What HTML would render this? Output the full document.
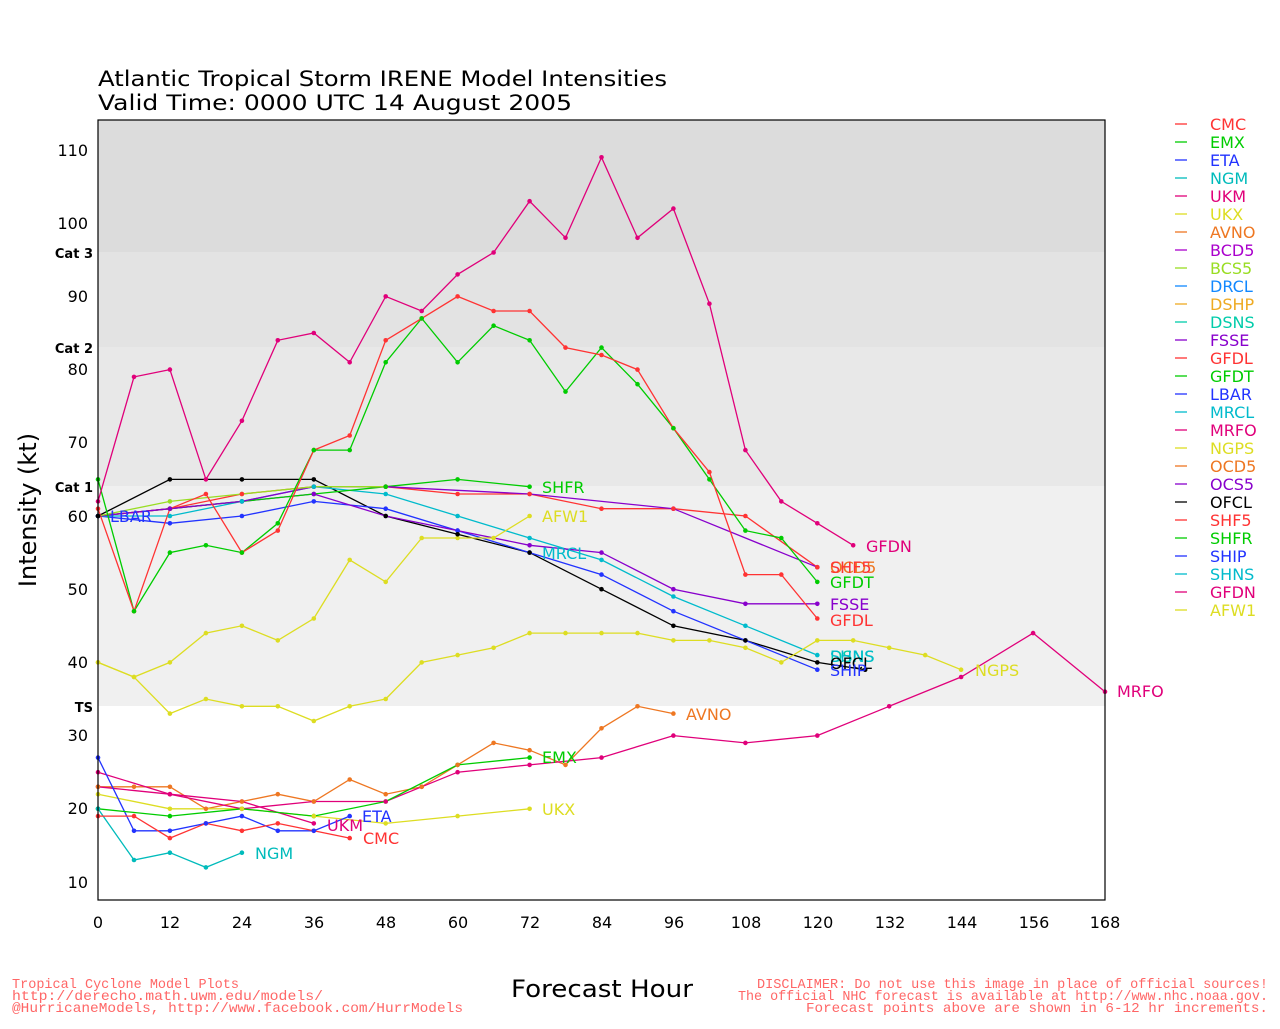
<!DOCTYPE html>
<html><head><meta charset="utf-8"><style>
body{margin:0;background:#fff;}
svg text{font-family:"DejaVu Sans","Liberation Sans",sans-serif;}
svg text.m{font-family:"Liberation Mono",monospace;}
</style></head><body>
<svg id="s" width="1280" height="1024" xmlns="http://www.w3.org/2000/svg">
<rect x="98" y="120" width="1007" height="780" fill="#fff"/>
<rect x="98" y="120" width="1007" height="132" fill="#dcdcdc"/>
<rect x="98" y="252" width="1007" height="95" fill="#e3e3e3"/>
<rect x="98" y="347" width="1007" height="139" fill="#e8e8e8"/>
<rect x="98" y="486" width="1007" height="220" fill="#f0f0f0"/>
<g id="lines"></g>
<rect x="98" y="120" width="1007" height="780" fill="none" stroke="#000" stroke-width="1.2"/>
<text x="98" y="86" font-size="21" textLength="569" lengthAdjust="spacingAndGlyphs">Atlantic Tropical Storm IRENE Model Intensities</text>
<text x="98" y="110" font-size="21" textLength="474" lengthAdjust="spacingAndGlyphs">Valid Time: 0000 UTC 14 August 2005</text>
<g font-size="13" font-weight="bold" text-anchor="end">
<text x="93" y="258">Cat 3</text><text x="93" y="353">Cat 2</text><text x="93" y="492">Cat 1</text><text x="93" y="712">TS</text>
</g>
<g font-size="16" text-anchor="end" fill="#000">
<text x="88" y="156">110</text><text x="88" y="229">100</text><text x="88" y="302">90</text><text x="88" y="375">80</text><text x="88" y="448">70</text><text x="88" y="522">60</text><text x="88" y="595">50</text><text x="88" y="668">40</text><text x="88" y="741">30</text><text x="88" y="814">20</text><text x="88" y="888">10</text>
</g>
<g font-size="16" text-anchor="middle">
<text x="98" y="928">0</text><text x="170" y="928">12</text><text x="242" y="928">24</text><text x="314" y="928">36</text><text x="386" y="928">48</text><text x="458" y="928">60</text><text x="530" y="928">72</text><text x="602" y="928">84</text><text x="674" y="928">96</text><text x="746" y="928">108</text><text x="818" y="928">120</text><text x="890" y="928">132</text><text x="962" y="928">144</text><text x="1034" y="928">156</text><text x="1105" y="928">168</text>
</g>
<text x="511" y="997" font-size="24" textLength="182" lengthAdjust="spacingAndGlyphs">Forecast Hour</text>
<text x="36" y="510" font-size="24" text-anchor="middle" transform="rotate(-90 36 510)">Intensity (kt)</text>
<g font-size="14" fill="#f66">
<text class="m" x="12" y="988" textLength="227" lengthAdjust="spacingAndGlyphs">Tropical Cyclone Model Plots</text>
<text class="m" x="12" y="1000" textLength="311" lengthAdjust="spacingAndGlyphs">http://derecho.math.uwm.edu/models/</text>
<text class="m" x="12" y="1012" textLength="451" lengthAdjust="spacingAndGlyphs">@HurricaneModels, http://www.facebook.com/HurrModels</text>
<text class="m" x="757" y="988" textLength="511" lengthAdjust="spacingAndGlyphs">DISCLAIMER: Do not use this image in place of official sources!</text>
<text class="m" x="738" y="1000" textLength="530" lengthAdjust="spacingAndGlyphs">The official NHC forecast is available at http://www.nhc.noaa.gov.</text>
<text class="m" x="806" y="1012" textLength="462" lengthAdjust="spacingAndGlyphs">Forecast points above are shown in 6-12 hr increments.</text>
</g>
<g font-size="16">
<text x="363" y="844" fill="#ff3333">CMC</text>
<text x="542" y="763" fill="#00cc00">EMX</text>
<text x="362" y="822" fill="#2233ff">ETA</text>
<text x="255" y="859" fill="#00bbbb">NGM</text>
<text x="327" y="831" fill="#e0007a">UKM</text>
<text x="542" y="815" fill="#dddd22">UKX</text>
<text x="686" y="720" fill="#ee7722">AVNO</text>
<text x="542" y="522" fill="#dddd22">AFW1</text>
<text x="542" y="493" fill="#00cc00">SHFR</text>
<text x="542" y="559" fill="#00bbcc">MRCL</text>
<text x="110" y="522" fill="#2233ff">LBAR</text>
<text x="866" y="552" fill="#e0007a">GFDN</text>
<text x="830" y="573" fill="#ee7722">OCD5</text>
<text x="830" y="573" fill="#ff3333">SHF5</text>
<text x="830" y="588" fill="#00cc00">GFDT</text>
<text x="830" y="610" fill="#8800cc">FSSE</text>
<text x="830" y="626" fill="#ff3333">GFDL</text>
<text x="830" y="662" fill="#00ccaa">DSNS</text>
<text x="830" y="662" fill="#00bbcc">SHNS</text>
<text x="830" y="669" fill="#000">OFCL</text>
<text x="830" y="676" fill="#2233ff">SHIP</text>
<text x="975" y="676" fill="#dddd22">NGPS</text>
<text x="1117" y="697" fill="#e0007a">MRFO</text>
</g>
<g font-size="16">
<text x="1210" y="130" fill="#ff3333">CMC</text>
<text x="1210" y="148" fill="#00cc00">EMX</text>
<text x="1210" y="166" fill="#2233ff">ETA</text>
<text x="1210" y="184" fill="#00bbbb">NGM</text>
<text x="1210" y="202" fill="#e0007a">UKM</text>
<text x="1210" y="220" fill="#dddd22">UKX</text>
<text x="1210" y="238" fill="#ee7722">AVNO</text>
<text x="1210" y="256" fill="#aa00cc">BCD5</text>
<text x="1210" y="274" fill="#99dd22">BCS5</text>
<text x="1210" y="292" fill="#1188ff">DRCL</text>
<text x="1210" y="310" fill="#eeaa22">DSHP</text>
<text x="1210" y="328" fill="#00ccaa">DSNS</text>
<text x="1210" y="346" fill="#8800cc">FSSE</text>
<text x="1210" y="364" fill="#ff3333">GFDL</text>
<text x="1210" y="382" fill="#00cc00">GFDT</text>
<text x="1210" y="400" fill="#2233ff">LBAR</text>
<text x="1210" y="418" fill="#00bbcc">MRCL</text>
<text x="1210" y="436" fill="#e0007a">MRFO</text>
<text x="1210" y="454" fill="#dddd22">NGPS</text>
<text x="1210" y="472" fill="#ee7722">OCD5</text>
<text x="1210" y="490" fill="#8800cc">OCS5</text>
<text x="1210" y="508" fill="#000">OFCL</text>
<text x="1210" y="526" fill="#ff3333">SHF5</text>
<text x="1210" y="544" fill="#00cc00">SHFR</text>
<text x="1210" y="562" fill="#2233ff">SHIP</text>
<text x="1210" y="580" fill="#00bbcc">SHNS</text>
<text x="1210" y="598" fill="#e0007a">GFDN</text>
<text x="1210" y="616" fill="#dddd22">AFW1</text>
</g>
<g id="leg"></g>
</svg>
<script>
var X=function(h){return 98+h*5.994},Y=function(v){return 882-(v-10)*7.32};
var S=[
["#ff3333",[0,19,6,19,12,16,18,18,24,17,30,18,36,17,42,16]],
["#00cc00",[0,20,12,19,24,20,36,19,48,21,60,26,72,27]],
["#2233ff",[0,27,6,17,12,17,18,18,24,19,30,17,36,17,42,19]],
["#00bbbb",[0,20,6,13,12,14,18,12,24,14]],
["#e0007a",[0,25,12,22,24,20,36,21,48,21,54,23,60,25,72,26,84,27,96,30,108,29,120,30,132,34,144,38,156,44,168,36]],
["#e0007a",[0,23,12,22,24,21,36,18]],
["#dddd22",[0,22,12,20,24,20,36,19,48,18,60,19,72,20]],
["#ee7722",[0,23,6,23,12,23,18,20,24,21,30,22,36,21,42,24,48,22,54,23,60,26,66,29,72,28,78,26,84,31,90,34,96,33]],
["#dddd22",[0,40,6,38,12,40,18,44,24,45,30,43,36,46,42,54,48,51,54,57,60,57,66,57,72,60]],
["#dddd22",[0,40,6,38,12,33,18,35,24,34,30,34,36,32,42,34,48,35,54,40,60,41,66,42,72,44,78,44,84,44,90,44,96,43,102,43,108,42,114,40,120,43,126,43,132,42,138,41,144,39]],
["#e0007a",[0,62,6,79,12,80,18,65,24,73,30,84,36,85,42,81,48,90,54,88,60,93,66,96,72,103,78,98,84,109,90,98,96,102,102,89,108,69,114,62,120,59,126,56]],
["#ff3333",[0,61,6,47,12,61,18,63,24,55,30,58,36,69,42,71,48,84,54,87,60,90,66,88,72,88,78,83,84,82,90,80,96,72,102,66,108,52,114,52,120,46]],
["#00cc00",[0,65,6,47,12,55,18,56,24,55,30,59,36,69,42,69,48,81,54,87,60,81,66,86,72,84,78,77,84,83,90,78,96,72,102,65,108,58,114,57,120,51]],
["#99dd22",[0,60,12,62,24,63,36,64,48,64]],
["#8800cc",[0,60,12,61,24,62,36,64,48,64,72,63,96,61,120,53]],
["#ff3333",[0,60,12,61,24,63,36,64,48,64,60,63,72,63,84,61,96,61,108,60,120,53]],
["#00cc00",[0,60,12,61,24,62,36,63,48,64,60,65,72,64]],
["#8800cc",[0,60,12,61,24,62,36,63,48,60,60,58,72,56,84,55,96,50,108,48,120,48]],
["#00bbcc",[0,60,12,60,24,62,36,64,48,63,60,60,72,57,84,54,96,49,108,45,120,41]],
["#2233ff",[0,60,12,59,24,60,36,62,48,61,60,58,72,55,84,52,96,47,108,43,120,39]],
["#000000",[0,60,12,65,24,65,36,65,48,60,60,57.5,72,55,84,50,96,45,108,43,120,40,128,39]]
];
var g=document.getElementById('lines'),h='';
S.forEach(function(s){var p=s[1],pts=[];for(var i=0;i<p.length;i+=2){pts.push(X(p[i]).toFixed(1)+','+Y(p[i+1]).toFixed(1));h+='<circle cx="'+X(p[i]).toFixed(1)+'" cy="'+Y(p[i+1]).toFixed(1)+'" r="2.3" fill="'+s[0]+'"/>';}
h='<polyline fill="none" stroke="'+s[0]+'" stroke-width="1.3" points="'+pts.join(' ')+'"/>'+h;});
g.innerHTML=h;
var c=["#ff3333","#00cc00","#2233ff","#00bbbb","#e0007a","#dddd22","#ee7722","#aa00cc","#99dd22","#1188ff","#eeaa22","#00ccaa","#8800cc","#ff3333","#00cc00","#2233ff","#00bbcc","#e0007a","#dddd22","#ee7722","#8800cc","#000","#ff3333","#00cc00","#2233ff","#00bbcc","#e0007a","#dddd22"],l='';
c.forEach(function(k,i){var y=124+i*18;l+='<line x1="1175" x2="1187" y1="'+y+'" y2="'+y+'" stroke="'+k+'" stroke-width="1.3"/>';});
document.getElementById('leg').innerHTML=l;
</script>
</body></html>
